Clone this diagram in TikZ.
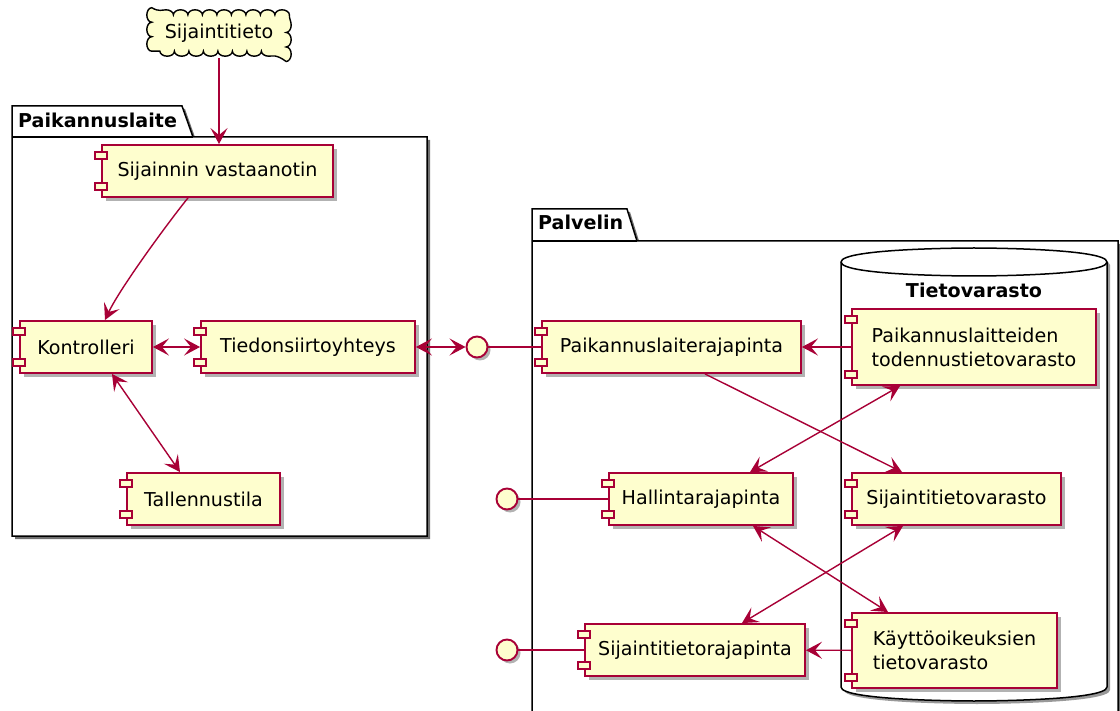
\documentclass[tikz,border=0pt]{standalone}
\usepackage{fontspec}
\setmainfont{DejaVu Sans}
\usetikzlibrary{arrows.meta,shadows,decorations.pathmorphing}
\pgfdeclarelayer{bg}
\pgfsetlayers{bg,main}
\definecolor{umlred}{HTML}{A80036}
\definecolor{umlfill}{HTML}{FEFECE}
\tikzset{
    umltip/.tip={Stealth[length=16pt, width=17pt, inset=7pt]},
    comp/.style={rectangle, draw=umlred, fill=umlfill, line width=1.9pt, inner sep=0pt,
        minimum height=52pt, align=left,
        drop shadow={shadow xshift=4pt, shadow yshift=-4pt, opacity=.3, fill=black}},
    compicon/.style={draw=umlred, fill=umlfill, line width=1.4pt},
    iface/.style={circle, draw=umlred, fill=umlfill, line width=1.9pt, inner sep=0pt,
        minimum size=21pt,
        drop shadow={shadow xshift=3pt, shadow yshift=-3pt, opacity=.3, fill=black}},
    pkg/.style={draw=black, fill=white, line width=1.5pt,
        drop shadow={shadow xshift=3pt, shadow yshift=-3pt, opacity=.7, fill=black!80}},
    dbase/.style={draw=black, fill=white, line width=1.5pt,
        drop shadow={shadow xshift=3pt, shadow yshift=-3pt, opacity=.4, fill=black}},
    cloudtext/.style={rectangle, inner sep=0pt, minimum width=134pt, minimum height=36pt},
    cloudline/.style={draw=black, fill=umlfill, line width=1.4pt,
        decorate, decoration={bumps, segment length=29pt, amplitude=5pt}},
    title/.style={font=\fontsize{19.1}{24}\selectfont\bfseries, inner sep=0pt},
    link/.style={color=umlred, line width=1.4pt},
    dep/.style={-umltip},
    both/.style={umltip-umltip}
}

\begin{document}
\begin{tikzpicture}[x=1pt, y=-1pt, font=\fontsize{19.1}{24}\selectfont]
        \useasboundingbox (0,0) rectangle (1120,711);
        \begin{pgfonlayer}{bg}
                % Paikannuslaite
                \draw[pkg] (12,137) -- (12,106) -- (182,106) -- (193,137) -- (427,137)
                        -- (427,536) -- (12,536) -- cycle;
                \draw[line width=1.5pt] (12,137) -- (193,137);
                % Palvelin
                \draw[pkg] (532,241) -- (532,209) -- (627,209) -- (637,241) -- (1118,241)
                        -- (1118,730) -- (532,730) -- cycle;
                \draw[line width=1.5pt] (532,241) -- (637,241);
                % Tietovarasto
                \draw[dbase] (841,262) .. controls (841,248) and (974,248) .. (974,248)
                        .. controls (974,248) and (1107,248) .. (1107,262) -- (1107,687)
                        .. controls (1107,701) and (974,701) .. (974,701)
                        .. controls (974,701) and (841,701) .. (841,687) -- cycle;
                \draw[line width=1.5pt] (841,262) .. controls (841,276) and (974,276) .. (974,276)
                        .. controls (974,276) and (1107,276) .. (1107,262);
        \end{pgfonlayer}

        \node[title, anchor=base west] (devtitle) at (18,128) {Paikannuslaite};
        \node[title, anchor=base west] (srvtitle) at (538,230) {Palvelin};
        \node[title, anchor=base] (dbtitle) at (974,298) {Tietovarasto};

        \node (cloud) [cloudtext] at (219,33) {Sijaintitieto};
        \begin{pgfonlayer}{bg}
                \path[cloudline] (cloud.south west) rectangle (cloud.north east);
        \end{pgfonlayer}

        \node (recv) [comp, minimum width=231pt] at (217.5,171) {Sijainnin vastaanotin};
        \node (ctrl) [comp, minimum width=132pt] at (86,347) {Kontrolleri};
        \node (link) [comp, minimum width=214pt] at (308,347) {Tiedonsiirtoyhteys};
        \node (store) [comp, minimum width=153pt] at (203.5,499) {Tallennustila};

        \node (if1) [iface] at (477,347) {};
        \node (if2) [iface] at (507,499) {};
        \node (if3) [iface] at (507,650) {};

        \node (devapi) [comp, minimum width=259pt] at (671.5,347) {Paikannuslaiterajapinta};
        \node (mgmtapi) [comp, minimum width=184pt] at (701,499) {Hallintarajapinta};
        \node (locapi) [comp, minimum width=220pt] at (695,650) {Sijaintitietorajapinta};
        \node (authstore) [comp, minimum width=244pt, minimum height=76pt] at (974,347)
                {Paikannuslaitteiden\\todennustietovarasto};
        \node (locstore) [comp, minimum width=209pt] at (956.5,499) {Sijaintitietovarasto};
        \node (permstore) [comp, minimum width=205pt, minimum height=75pt] at (954.5,650.5)
                {Käyttöoikeuksien\\tietovarasto};

        \foreach \c in {recv,ctrl,link,store,devapi,mgmtapi,locapi,authstore,locstore,permstore} {
                \draw[compicon] ([xshift=-6pt, yshift=-8pt]\c.north west) rectangle ++(12pt,-7pt);
                \draw[compicon] ([xshift=-6pt, yshift=8pt]\c.south west) rectangle ++(12pt,7pt);
        }

        \draw[link] ([yshift=-7pt]cloud.south) edge[dep] (cloud.south |- recv.north);
        \draw[link, dep] ([xshift=-29.5pt]recv.south) .. controls (170,220) and (120,288)
                .. ([xshift=19pt]ctrl.north);
        \draw[link] (ctrl) edge[both] (link);
        \draw[link] ([xshift=26pt]ctrl.south) edge[both] ([xshift=-23.5pt]store.north);
        \draw[link] (link) edge[both] (if1);
        \draw[link] (if1) edge (devapi);
        \draw[link] (if2) edge (mgmtapi);
        \draw[link] (if3) edge (locapi);
        \draw[link] (authstore) edge[dep] (devapi);
        \draw[link] ([xshift=33.5pt]devapi.south) edge[dep] ([xshift=-54.5pt]locstore.north);
        \draw[link] ([xshift=49pt]mgmtapi.north) edge[both] ([xshift=-74pt]authstore.south);
        \draw[link] ([xshift=52pt]mgmtapi.south) edge[both] ([xshift=-66.5pt]permstore.north);
        \draw[link] ([xshift=47pt]locapi.north) edge[both] ([xshift=-53.5pt]locstore.south);
        \draw[link] (permstore) edge[dep] (locapi);
\end{tikzpicture}
\end{document}
